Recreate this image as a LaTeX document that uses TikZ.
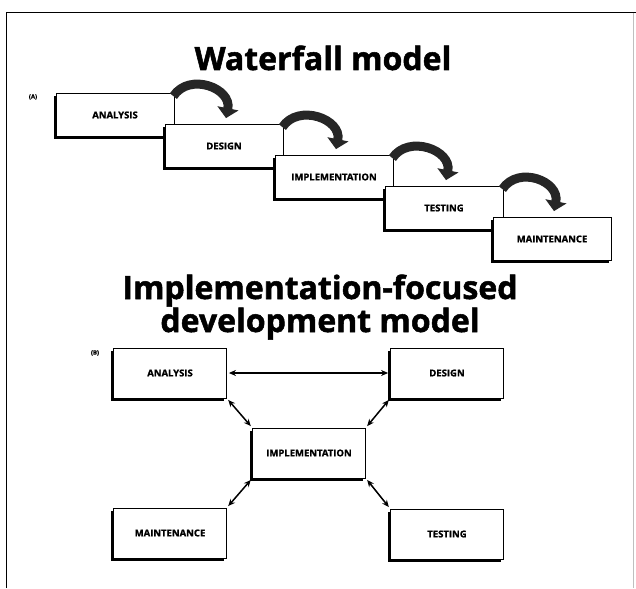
\documentclass[tikz,border=0pt]{standalone}
\usepackage{fontspec}
\setmainfont{Open Sans}
\newfontfamily\heavyfont[FakeBold=1.6]{Open Sans Bold}
\newfontfamily\labfont[FakeBold=1.2]{Open Sans Bold}
\usetikzlibrary{arrows.meta,shadows}
\tikzset{
  box/.style={draw=black, line width=0.8pt, fill=white, minimum width=118pt, minimum height=43pt,
    inner sep=0pt, font=\labfont\fontsize{9.5}{11}\selectfont,
    drop shadow={shadow xshift=-2.5pt, shadow yshift=-2.5pt, fill=black, opacity=1}},
  bbox/.style={box, minimum width=113pt, minimum height=50pt},
  wfarrow/.style={draw=black!85, line width=9pt, -{Triangle[width=21pt,length=10pt]}},
  dbl/.style={line width=1.5pt, {Stealth[length=7pt,width=6pt]}-{Stealth[length=7pt,width=6pt]}, shorten <=2pt, shorten >=2pt},
  ttl/.style={font=\heavyfont\fontsize{32}{32}\selectfont, anchor=base, inner sep=0pt},
  tag/.style={font=\labfont\fontsize{6}{7}\selectfont, inner sep=0pt}
}
\begin{document}
\begin{tikzpicture}[x=1pt,y=-1pt]
\useasboundingbox (0,0) rectangle (636,588);
\fill[white] (0,0) rectangle (636,588);
% frame
\draw[line width=1pt] (6,588) -- (6,13) -- (636,13);
\draw[line width=0.6pt, black!25] (633,13) -- (633,588);

% waterfall
\node[ttl] (t1) at (323,70) {Waterfall model};
\node[tag] (la) at (33,97) {(A)};
\node[box] (wa) at (115,115) {ANALYSIS};
\node[box] (wd) at (224,146) {DESIGN};
\node[box] (wi) at (334,177) {IMPLEMENTATION};
\node[box] (wt) at (444,208) {TESTING};
\node[box] (wm) at (552,239) {MAINTENANCE};
\foreach \a/\b in {wa/wd, wd/wi, wi/wt, wt/wm}{
  \draw[wfarrow] ([xshift=-1pt,yshift=-3pt]\a.north east) .. controls +(16,-24) and +(6,-30) .. ([xshift=2pt,yshift=6pt]\b.north);
}

% implementation-focused
\node[ttl] (t2) at (320,299) {Implementation-focused};
\node[ttl] (t3) at (320,332) {development model};
\node[tag] (lb) at (95,353) {(B)};
\node[bbox] (ba) at (170,373) {ANALYSIS};
\node[bbox] (bd) at (447,373) {DESIGN};
\node[bbox] (bi) at (309,453) {IMPLEMENTATION};
\node[bbox] (bm) at (170,533) {MAINTENANCE};
\node[bbox] (bt) at (447,534) {TESTING};
\draw[dbl] (ba.east) -- (bd.west);
\draw[dbl] (ba.south east) -- (bi.north west);
\draw[dbl] (bd.south west) -- (bi.north east);
\draw[dbl] (bi.south west) -- (bm.north east);
\draw[dbl] (bi.south east) -- (bt.north west);
\end{tikzpicture}
\end{document}
